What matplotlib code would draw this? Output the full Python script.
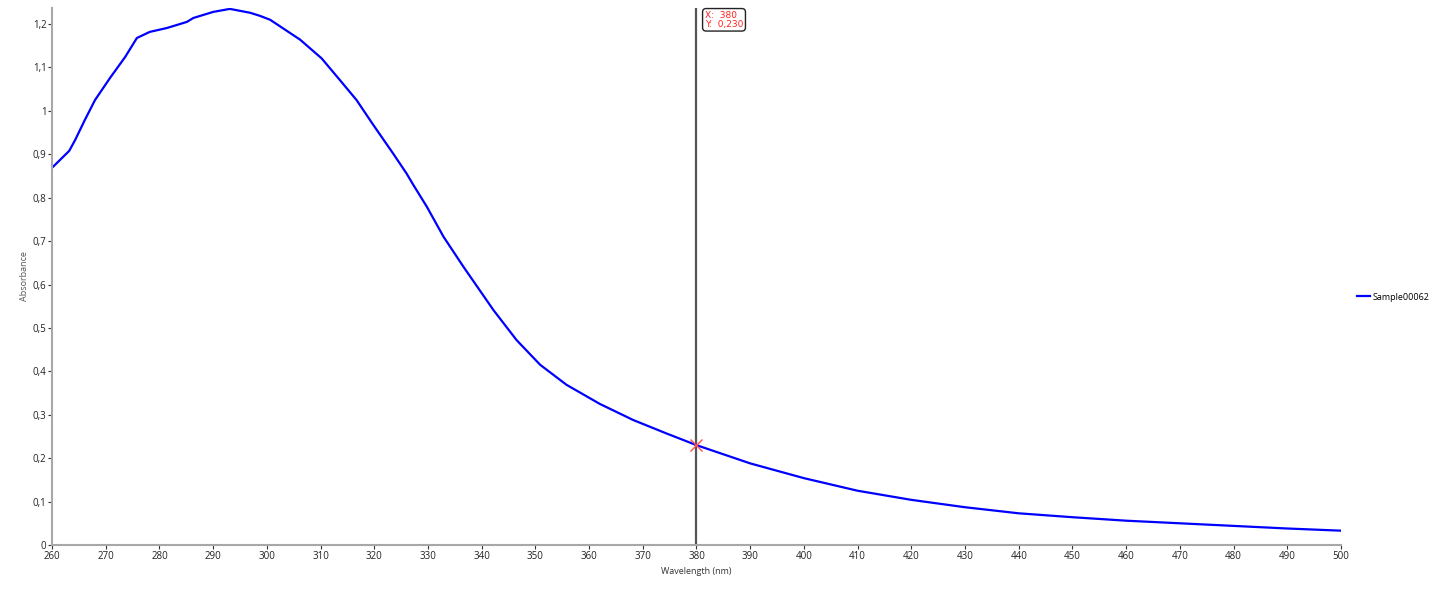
import numpy as np
import matplotlib
matplotlib.use("Agg")
import matplotlib.pyplot as plt
from matplotlib.ticker import FuncFormatter, MultipleLocator

plt.rcParams['font.family'] = ['Open Sans', 'DejaVu Sans']

# spectrum
wavelength = [260, 263.2, 264.3, 266.1, 268, 270.8, 273.6, 275.8, 278.2, 281.4,
              285.1, 286.3, 290, 293.1, 296.9, 298.7, 300.6, 306.2, 310.2, 313.6,
              316.7, 319.8, 323.5, 326.0, 327.3, 329.8, 332.9, 336.6, 342.2, 346.5,
              350.9, 355.8, 362.0, 368.2, 374.4, 380, 390, 400, 410, 420,
              430, 440, 450, 460, 470, 480, 490, 500]
absorbance = [0.869, 0.908, 0.933, 0.979, 1.025, 1.076, 1.124, 1.168, 1.182, 1.191,
              1.205, 1.214, 1.228, 1.235, 1.226, 1.219, 1.210, 1.164, 1.121, 1.071,
              1.025, 0.968, 0.902, 0.856, 0.829, 0.779, 0.710, 0.641, 0.541, 0.472,
              0.415, 0.369, 0.325, 0.288, 0.257, 0.230, 0.188, 0.154, 0.125, 0.104,
              0.087, 0.073, 0.064, 0.056, 0.050, 0.044, 0.038, 0.033]
series_name = "Sample00062"
cursor_x = 380
cursor_y = 0.230

fig = plt.figure(figsize=(14.34, 5.94), dpi=100)
ax = fig.add_axes([0.0363, 0.0825, 0.8988, 0.904])

ax.plot(wavelength, absorbance, color='#0000ff', lw=1.6, label=series_name)

# cursor
ax.axvline(cursor_x, color='#555555', lw=1.6, zorder=1)
ax.plot([cursor_x], [cursor_y], marker='x', color='#ff5050', ms=9, mew=1.0, zorder=4)
ax.annotate("X:  380\nY:  0,230", xy=(cursor_x, 1.237), xycoords='data',
            xytext=(6, -2), textcoords='offset points', ha='left', va='top',
            fontsize=6.5, color='#ff2020', family='DejaVu Sans',
            linespacing=1.0,
            bbox=dict(boxstyle='round,pad=0.25,rounding_size=0.4', fc='white', ec='#222222', lw=1.0))

ax.set_xlim(260, 500)
ax.set_ylim(0, 1.237)
ax.xaxis.set_major_locator(MultipleLocator(10))
ax.yaxis.set_major_locator(MultipleLocator(0.1))
ax.yaxis.set_major_formatter(FuncFormatter(lambda v, p: ('%g' % round(v, 2)).replace('.', ',')))

for s in ['top', 'right']:
    ax.spines[s].set_visible(False)
for s in ['left', 'bottom']:
    ax.spines[s].set_color('#a8a8a8')
    ax.spines[s].set_linewidth(1.5)
ax.tick_params(axis='both', direction='out', length=3, width=0.8, color='#333333',
               labelsize=7, labelcolor='#222222', pad=1)

ax.set_xlabel("Wavelength (nm)", fontsize=6.5, color='#333333', labelpad=4)
ax.set_ylabel("Absorbance", fontsize=6.5, color='#555555', labelpad=3)

fig.legend(loc='center left', bbox_to_anchor=(0.942, 0.5), frameon=False,
           fontsize=6.5, handlelength=1.45, handletextpad=0.3, borderpad=0.2)

fig.savefig("out.png", dpi=100)
